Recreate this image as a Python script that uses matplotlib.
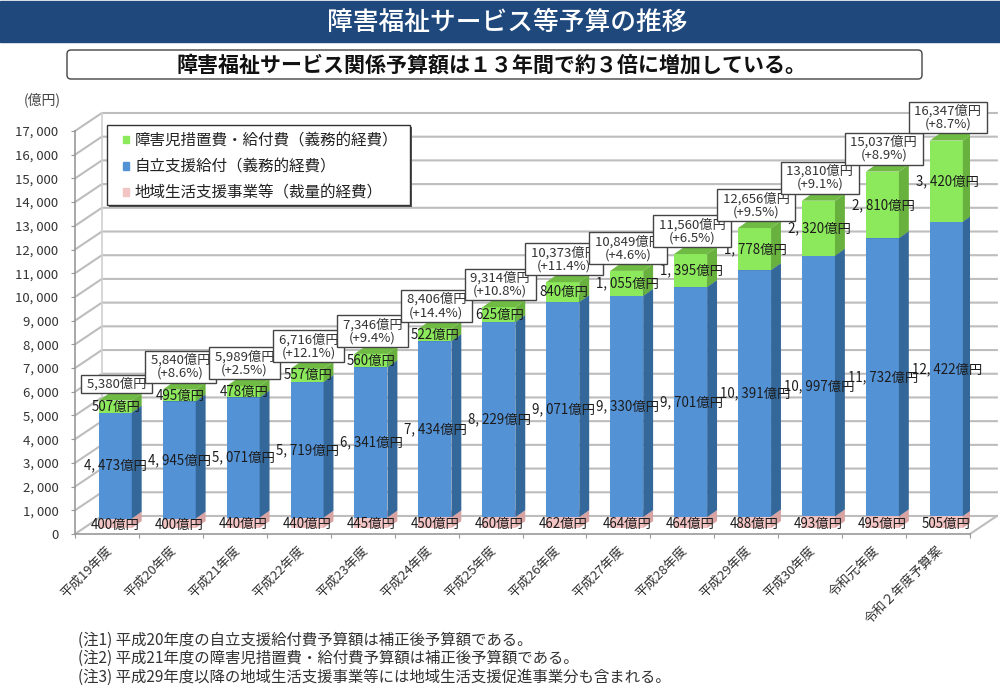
import matplotlib
matplotlib.use('Agg')
from matplotlib import pyplot as plt
from matplotlib.patches import Polygon, Patch, Rectangle, FancyBboxPatch

plt.rcParams['font.family'] = ['Noto Sans CJK JP', 'DejaVu Sans']

years = ['平成19年度', '平成20年度', '平成21年度', '平成22年度', '平成23年度', '平成24年度', '平成25年度',
         '平成26年度', '平成27年度', '平成28年度', '平成29年度', '平成30年度', '令和元年度', '令和２年度予算案']
chiiki = [400, 400, 440, 440, 445, 450, 460, 462, 464, 464, 488, 493, 495, 505]
jiritsu = [4473, 4945, 5071, 5719, 6341, 7434, 8229, 9071, 9330, 9701, 10391, 10997, 11732, 12422]
shougaiji = [507, 495, 478, 557, 560, 522, 625, 840, 1055, 1395, 1778, 2320, 2810, 3420]
totals = [5380, 5840, 5989, 6716, 7346, 8406, 9314, 10373, 10849, 11560, 12656, 13810, 15037, 16347]
growth = ['', '+8.6%', '+2.5%', '+12.1%', '+9.4%', '+14.4%', '+10.8%', '+11.4%', '+4.6%', '+6.5%',
          '+9.5%', '+9.1%', '+8.9%', '+8.7%']
yticks = list(range(0, 18000, 1000))
notes = ['(注1) 平成20年度の自立支援給付費予算額は補正後予算額である。',
         '(注2) 平成21年度の障害児措置費・給付費予算額は補正後予算額である。',
         '(注3) 平成29年度以降の地域生活支援事業等には地域生活支援促進事業分も含まれる。']
legend_names = ['障害児措置費・給付費（義務的経費）', '自立支援給付（義務的経費）', '地域生活支援事業等（裁量的経費）']

# colours: front, side, top
green = ('#8ce95c', '#69b13f', '#6fbb44')
blue = ('#5492d6', '#35689a', '#35689a')
pink = ('#f3c4c4', '#d8a3a3', '#d8a3a3')

W, H = 1000, 691
fig = plt.figure(figsize=(W / 100, H / 100), dpi=100)

# header and notes live on a pixel-sized backdrop
bg = fig.add_axes([0, 0, 1, 1])
bg.set_xlim(0, W)
bg.set_ylim(H, 0)
bg.axis('off')
bg.add_patch(Rectangle((0, 1), W, 41, color='#1f497d'))
bg.text(507, 22, '障害福祉サービス等予算の推移', color='white', fontsize=18.5, weight='medium',
        ha='center', va='center')
bg.add_patch(FancyBboxPatch((67, 50), 855, 29, boxstyle='round,pad=0,rounding_size=4', fc='white',
                            ec='#444444', lw=1, mutation_aspect=1))
bg.text(492, 65, '障害福祉サービス関係予算額は１３年間で約３倍に増加している。', fontsize=15.1, weight='bold',
        ha='center', va='center', color='#111111')
for i, note in enumerate(notes):
    bg.text(78, 640 + i * 18.5, note, fontsize=11.1, va='center', color='#333333')
bg.text(42, 100, '(億円)', fontsize=10, ha='center', va='center', color='#444444')

ax = fig.add_axes([75 / W, 1 - 534 / H, 895 / W, 403 / H])
ax.set_xlim(0, 14)
ax.set_ylim(0, 17000)
ax.patch.set_alpha(0)
for s in ['top', 'right']:
    ax.spines[s].set_visible(False)
for s in ['left', 'bottom']:
    ax.spines[s].set_color('#999999')
    ax.spines[s].set_linewidth(1.2)

wall_dx, wall_dy = 0.42, 760   # depth of the box
bar_dx, bar_dy = 0.155, 295    # depth of one bar
bar_w = 0.516
base = 250                     # bars sit a little inside the floor
shift = 0.13

for v in yticks:
    ax.plot([0, wall_dx, 14 + wall_dx], [v, v + wall_dy, v + wall_dy], color='#bdbdbd', lw=1.5,
            clip_on=False, zorder=1)
ax.plot([14, 14 + wall_dx], [0, wall_dy], color='#bdbdbd', lw=1.5, clip_on=False, zorder=1)
ax.plot([wall_dx, wall_dx], [wall_dy, 17000 + wall_dy], color='#d0d0d0', lw=1.2, clip_on=False, zorder=1)

centers = [i + 0.5 + shift for i in range(len(years))]


def draw_segment(x, bottom, height, cols):
    left, right = x - bar_w / 2, x + bar_w / 2
    top = bottom + height
    ax.bar(x, height, bar_w, bottom=bottom, color=cols[0], zorder=3)
    ax.add_patch(Polygon([(right, bottom), (right + bar_dx, bottom + bar_dy),
                          (right + bar_dx, top + bar_dy), (right, top)], fc=cols[1], ec='none', zorder=3))
    ax.add_patch(Polygon([(left, top), (left + bar_dx, top + bar_dy),
                          (right + bar_dx, top + bar_dy), (right, top)], fc=cols[2], ec='none', zorder=3))


for i, x in enumerate(centers):
    b1 = base + chiiki[i]
    b2 = b1 + jiritsu[i]
    draw_segment(x, base, chiiki[i], pink)
    draw_segment(x, b1, jiritsu[i], blue)
    draw_segment(x, b2, shougaiji[i], green)

    ax.text(x, base + chiiki[i] / 2 - 60, f'{chiiki[i]}億円', ha='center', va='center', fontsize=9.6,
            color='#1c1c1c', zorder=5)
    ax.text(x + 0.01, b1 + jiritsu[i] / 2, f'{jiritsu[i]:,}億円'.replace(',', ', '), ha='center', va='center',
            fontsize=9.6, color='#1c1c1c', zorder=5, clip_on=False)
    ax.text(x + 0.01, b2 + shougaiji[i] / 2, f'{shougaiji[i]:,}億円'.replace(',', ', '), ha='center',
            va='center', fontsize=9.6, color='#1c1c1c', zorder=5, clip_on=False)
    label = f' {totals[i]:,}億円 '
    if growth[i]:
        label += f'\n({growth[i]})'
    ax.annotate(label, (x, base + totals[i]), xytext=(1, 7), textcoords='offset points', ha='center', va='bottom',
                fontsize=9.5, linespacing=1.0, color='#333333', zorder=6 + i, annotation_clip=False,
                bbox=dict(boxstyle='square,pad=0.2', fc='white', ec='#444444', lw=1))

ax.set_yticks(yticks)
ax.set_yticklabels([f'{v:,}'.replace(',', ', ') for v in yticks], fontsize=9.5, color='#333333')
ax.set_xticks(range(15))
ax.set_xticklabels([])
ax.tick_params(axis='both', color='#999999', length=3)
ax.tick_params(axis='y', pad=9)
for i, name in enumerate(years):
    ax.annotate(name, (i + 0.5, 0), xytext=(-1, -7), textcoords='offset points', rotation=45, ha='right', va='top',
                rotation_mode='anchor', fontsize=9.4, color='#333333', annotation_clip=False)

# legend frame is drawn separately, the real one is wider than its contents
fig.add_artist(Rectangle((109 / W, 1 - 207 / H), 303 / W, 80 / H, transform=fig.transFigure, fc='#555555',
                         ec='none', zorder=9))
fig.add_artist(Rectangle((107 / W, 1 - 205 / H), 303 / W, 80 / H, transform=fig.transFigure, fc='white',
                         ec='#333333', lw=1, zorder=9))
handles = [Patch(color=green[0]), Patch(color=blue[0]), Patch(color=pink[0])]
leg = fig.legend(handles, legend_names, loc='upper left', bbox_to_anchor=(120 / W, 1 - 129 / H),
                 borderaxespad=0, fontsize=11.2, frameon=False, handlelength=0.4, handleheight=0.4,
                 handletextpad=0.33, labelspacing=0.58, borderpad=0.2, labelcolor='#222222')
leg.set_zorder(10)

fig.savefig('out.png', dpi=100)
